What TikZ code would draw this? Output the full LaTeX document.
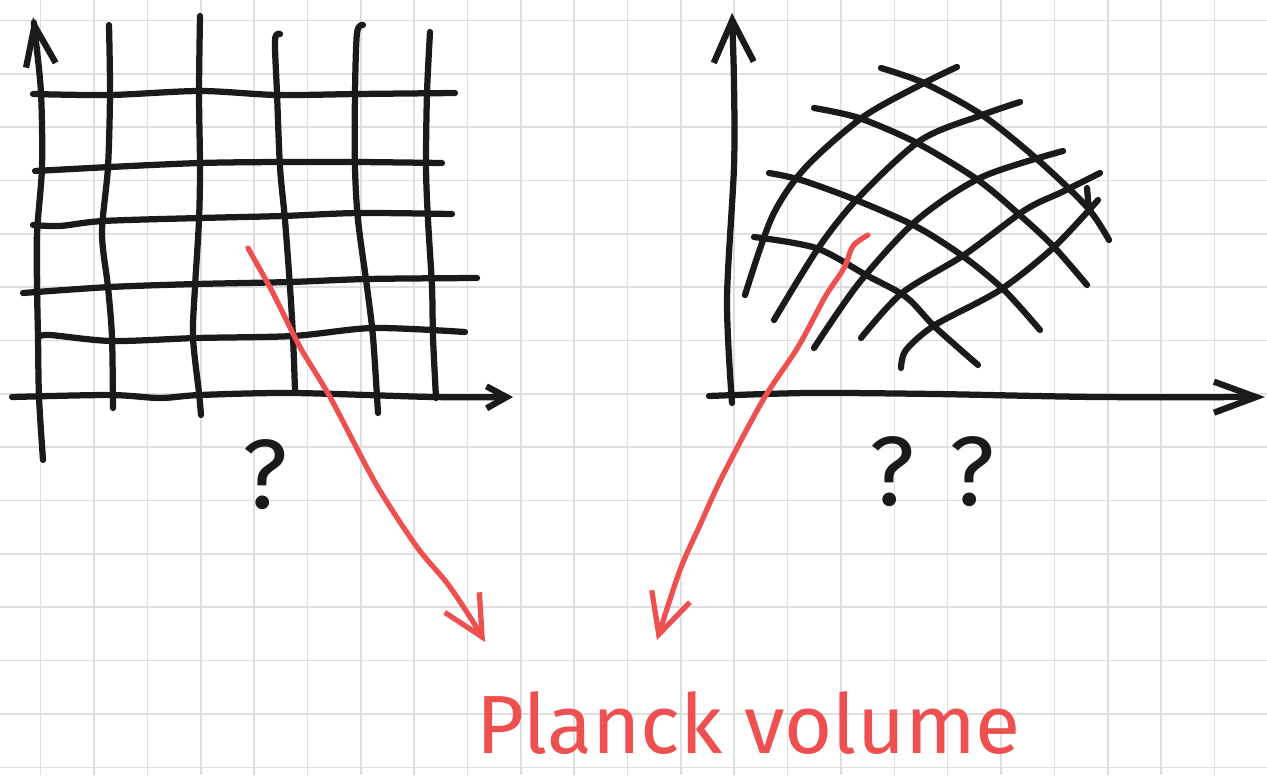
\documentclass[tikz,border=0pt]{standalone}
\usepackage{fontspec}
\usepackage{xcolor}
\usetikzlibrary{arrows.meta}
\newfontfamily\handfont{Fira Sans}
\definecolor{inkblack}{HTML}{1A1A1A}
\definecolor{penred}{HTML}{EE4F4F}
\definecolor{papergray}{HTML}{DEDEDE}

\begin{document}
\begin{tikzpicture}[
  x=0.02cm, y=-0.02cm,
  paper/.style={draw=papergray, line width=0.9pt},
  ink/.style={draw=inkblack, line width=1.25mm, line cap=round, line join=round},
  axis/.style={ink, -{Straight Barb[length=0.8cm, width=0.6cm]}},
  pen/.style={draw=penred, line width=1.05mm, line cap=round, line join=round, -{Straight Barb[length=0.8cm, width=0.8cm]}},
  query/.style={text=inkblack, font=\handfont\fontsize{56}{60}\selectfont, inner sep=0pt, anchor=base},
  note/.style={text=penred, font=\handfont\fontsize{47}{50}\selectfont, inner sep=0pt, anchor=base west}
]
  \fill[white] (0,0) rectangle (1267,775);
  \useasboundingbox (0,0) rectangle (1267,775);
  \foreach \k in {0,...,22}
    \draw[paper] ({40.7+53.35*\k},0) -- ({40.7+53.35*\k},775);
  \foreach \k in {0,...,14}
    \draw[paper] (0,{20.4+53.35*\k}) -- (1267,{20.4+53.35*\k});

  % flat grid
  \draw[axis] plot[smooth] coordinates {(43,460) (39,397) (38,337) (37,287) (37,233) (42,167) (41,93) (35,33) (33,17)};
  \draw[axis, -{Straight Barb[length=0.4cm, width=0.44cm]}] plot[smooth] coordinates {(12,397) (110,395) (160,398) (200,395) (293,393) (433,397) (513,397)};
  \draw[ink] plot[smooth] coordinates {(109,25) (110,93) (108,167) (102,233) (108,287) (112,337) (113,408)};
  \draw[ink] plot[smooth] coordinates {(200,16) (199,93) (200,167) (199,220) (195,287) (193,337) (199,393) (201,415)};
  \draw[ink] plot[smooth] coordinates {(280,34) (275,40) (277,93) (280,167) (285,220) (290,287) (293,337) (295,390)};
  \draw[ink] plot[smooth] coordinates {(363,25) (357,33) (355,93) (355,167) (358,220) (367,287) (373,337) (378,413)};
  \draw[ink] plot[smooth] coordinates {(430,32) (427,93) (426,167) (428,220) (432,287) (433,337) (436,398)};
  \draw[ink] plot[smooth] coordinates {(33,94) (110,95) (200,91) (277,95) (357,94) (455,93)};
  \draw[ink] plot[smooth] coordinates {(35,171) (110,167) (200,163) (280,162) (357,162) (442,163)};
  \draw[ink] plot[smooth] coordinates {(33,225) (60,226) (103,221) (200,218) (283,216) (358,213) (452,214)};
  \draw[ink] plot[smooth] coordinates {(23,293) (110,287) (197,284) (290,282) (367,279) (477,278)};
  \draw[ink] plot[smooth] coordinates {(38,337) (50,335) (112,341) (197,338) (293,336) (373,328) (465,332)};

  % curved grid
  \draw[axis, -{Straight Barb[length=0.84cm, width=0.8cm]}] plot[smooth] coordinates {(732,403) (727,300) (734,167) (734,83) (732,13)};
  \draw[axis, -{Straight Barb[length=0.84cm, width=0.62cm]}] plot[smooth] coordinates {(709,396) (808,393) (935,394) (1098,397) (1265,397)};
  \draw[ink] plot[smooth] coordinates {(745,295) (772,217) (805,168) (863,117) (924,83) (957,67)};
  \draw[ink] plot[smooth] coordinates {(774,320) (819,247) (859,197) (921,140) (982,115) (1020,102)};
  \draw[ink] plot[smooth] coordinates {(814,348) (859,283) (917,220) (982,177) (1063,151)};
  \draw[ink] plot[smooth] coordinates {(861,338) (902,293) (964,255) (1025,210) (1062,192) (1100,173)};
  \draw[ink] plot[smooth] coordinates {(901,368) (906,350) (935,325) (1000,290) (1054,247) (1098,200)};
  \draw[ink] plot[smooth] coordinates {(881,68) (924,83) (982,115) (1038,160) (1087,207) (1109,240)};
  \draw[ink] plot[smooth] coordinates {(814,108) (859,118) (917,143) (978,180) (1022,217) (1054,247) (1087,285)};
  \draw[ink] plot[smooth] coordinates {(769,173) (801,180) (856,200) (917,227) (964,257) (1004,290) (1040,330)};
  \draw[ink] plot[smooth] coordinates {(754,237) (816,248) (866,275) (906,297) (935,327) (978,365)};
  \draw[ink] (1087,188) -- (1089,212);

  \node[query] (qL) at (265,508) {?};
  \node[query] (qR1) at (892,505) {?};
  \node[query] (qR2) at (972,505) {?};
  \node[note] (planck) at (476,753) {Planck volume};

  \coordinate (cellL) at (248,248);
  \coordinate (cellR) at (868,235);
  \coordinate (tipL) at (485,642);
  \coordinate (tipR) at (657,640);
  \draw[pen] plot[smooth] coordinates {(cellL) (253,257) (273,293) (300,347) (330,397) (376,484) (417,547) (447,583) (470,617) (tipL)};
  \draw[pen] plot[smooth] coordinates {(cellR) (853,246) (844,268) (825,297) (798,347) (763,400) (722,477) (700,525) (680,570) (tipR)};
\end{tikzpicture}
\end{document}
